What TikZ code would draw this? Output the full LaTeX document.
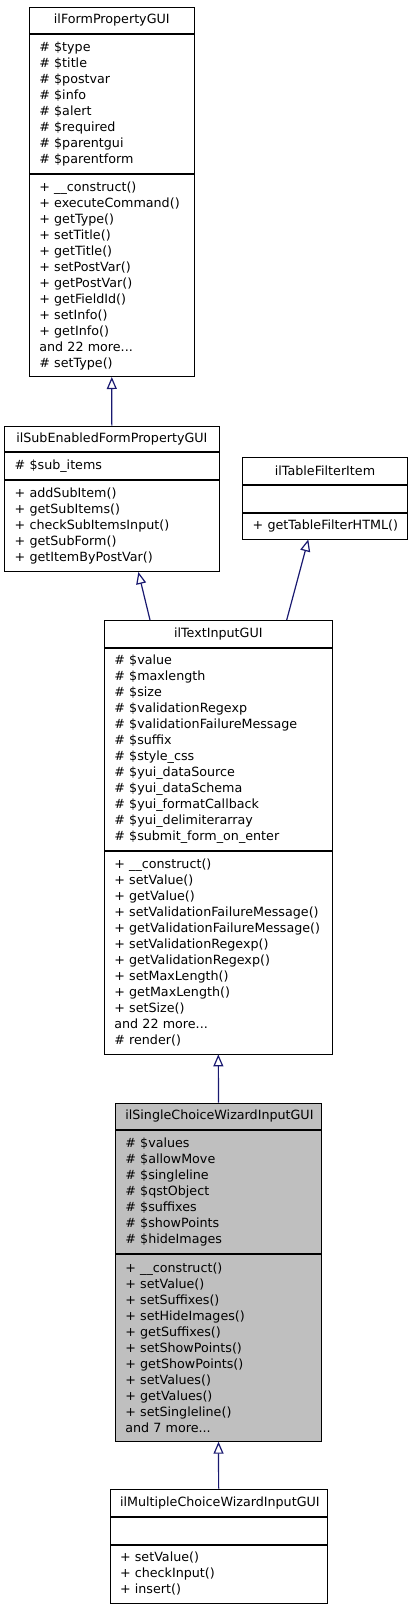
\documentclass[tikz,border=0pt]{standalone}
\usepackage{fontspec}
\setmainfont{DejaVu Sans}
\usetikzlibrary{positioning,arrows.meta}
\hyphenpenalty=10000
\definecolor{edge}{HTML}{191970}
\definecolor{shade}{HTML}{BFBFBF}
\tikzset{
  cls/.style={draw=black, line width=0.9pt, inner xsep=10pt, inner ysep=0pt,
    font=\fontsize{12.7}{16}\selectfont},
  head/.style={cls, align=center},
  body/.style={cls, align=left},
  inh/.style={draw=edge, line width=1.2pt, -{Triangle[open, length=12pt, width=10pt]}},
}
\begin{document}
\begin{tikzpicture}[x=1pt, y=-1pt, node distance=0pt]
  \useasboundingbox (0,0) rectangle (413,1608);
  % ilFormPropertyGUI
  \node[head, anchor=north, text width=145pt, minimum height=26.6pt] (formT) at (111.8,6.7) {ilFormPropertyGUI};
  \node[body, below=of formT, text width=145pt, minimum height=139pt] (formA)
    {\#~\$type\\ \#~\$title\\ \#~\$postvar\\ \#~\$info\\ \#~\$alert\\ \#~\$required\\ \#~\$parentgui\\ \#~\$parentform};
  \node[body, below=of formA, text width=145pt, minimum height=202pt] (formM)
    {+~\_\_construct()\\ +~executeCommand()\\ +~getType()\\ +~setTitle()\\ +~getTitle()\\ +~setPostVar()\\
     +~getPostVar()\\ +~getFieldId()\\ +~setInfo()\\ +~getInfo()\\ and 22 more...\\ \#~setType()};
  % ilSubEnabledFormPropertyGUI
  \node[head, anchor=north, text width=194.3pt, minimum height=25.6pt] (subT) at (111.85,425.7) {ilSubEnabledFormPropertyGUI};
  \node[body, below=of subT, text width=194.3pt, minimum height=27pt] (subA) {\#~\$sub\_items};
  \node[body, below=of subA, text width=194.3pt, minimum height=91pt] (subM)
    {+~addSubItem()\\ +~getSubItems()\\ +~checkSubItemsInput()\\ +~getSubForm()\\ +~getItemByPostVar()};
  % ilTableFilterItem
  \node[head, anchor=north, text width=144.6pt, minimum height=26.7pt] (filterT) at (325,457.3) {ilTableFilterItem};
  \node[body, below=of filterT, text width=144.6pt, minimum height=27pt] (filterA) {};
  \node[body, below=of filterA, text width=144.6pt, minimum height=25.7pt] (filterM) {+~getTableFilterHTML()};
  % ilTextInputGUI
  \node[head, anchor=north, text width=208pt, minimum height=26.7pt] (textT) at (218.3,620) {ilTextInputGUI};
  \node[body, below=of textT, text width=208pt, minimum height=202pt] (textA)
    {\#~\$value\\ \#~\$maxlength\\ \#~\$size\\ \#~\$validationRegexp\\ \#~\$validationFailureMessage\\
     \#~\$suffix\\ \#~\$style\_css\\ \#~\$yui\_dataSource\\ \#~\$yui\_dataSchema\\ \#~\$yui\_formatCallback\\
     \#~\$yui\_delimiterarray\\ \#~\$submit\_form\_on\_enter};
  \node[body, below=of textA, text width=208pt, minimum height=203pt] (textM)
    {+~\_\_construct()\\ +~setValue()\\ +~getValue()\\ +~setValidationFailureMessage()\\
     +~getValidationFailureMessage()\\ +~setValidationRegexp()\\ +~getValidationRegexp()\\
     +~setMaxLength()\\ +~getMaxLength()\\ +~setSize()\\ and 22 more...\\ \#~render()};
  % ilSingleChoiceWizardInputGUI
  \node[head, fill=shade, anchor=north, text width=186.4pt, minimum height=26.3pt] (singleT) at (218.5,1102.7) {ilSingleChoiceWizardInputGUI};
  \node[body, fill=shade, below=of singleT, text width=186.4pt, minimum height=122.7pt] (singleA)
    {\#~\$values\\ \#~\$allowMove\\ \#~\$singleline\\ \#~\$qstObject\\ \#~\$suffixes\\ \#~\$showPoints\\ \#~\$hideImages};
  \node[body, fill=shade, below=of singleA, text width=186.4pt, minimum height=187.3pt] (singleM)
    {+~\_\_construct()\\ +~setValue()\\ +~setSuffixes()\\ +~setHideImages()\\ +~getSuffixes()\\
     +~setShowPoints()\\ +~getShowPoints()\\ +~setValues()\\ +~getValues()\\ +~setSingleline()\\ and 7 more...};
  % ilMultipleChoiceWizardInputGUI
  \node[head, anchor=north, text width=197.3pt, minimum height=27pt] (multiT) at (218.65,1488.7) {ilMultipleChoiceWizardInputGUI};
  \node[body, below=of multiT, text width=197.3pt, minimum height=27pt] (multiA) {};
  \node[body, below=of multiA, text width=197.3pt, minimum height=58pt] (multiM)
    {+~setValue()\\ +~checkInput()\\ +~insert()};
  % inheritance
  \draw[inh] (subT.north) -- (formM.south);
  \draw[inh] ([xshift=-68.3pt]textT.north) -- ([xshift=26.5pt]subM.south);
  \draw[inh] ([xshift=68.4pt]textT.north) -- ([xshift=-16.7pt]filterM.south);
  \draw[inh] (singleT.north) -- (textM.south);
  \draw[inh] (multiT.north) -- (singleM.south);
\end{tikzpicture}
\end{document}
